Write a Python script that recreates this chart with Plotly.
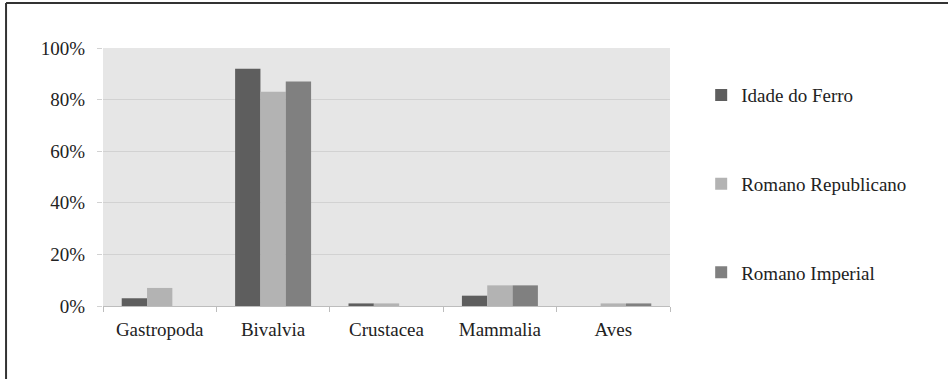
import plotly.graph_objects as go

categories = ["Gastropoda", "Bivalvia", "Crustacea", "Mammalia", "Aves"]
series_names = ["Idade do Ferro", "Romano Republicano", "Romano Imperial"]
idade_do_ferro = [0.03, 0.92, 0.01, 0.04, 0.0]
romano_republicano = [0.07, 0.83, 0.01, 0.08, 0.01]
romano_imperial = [0.0, 0.87, 0.0, 0.08, 0.01]
y_ticks = [0, 0.2, 0.4, 0.6, 0.8, 1.0]

colors = ["#5e5e5e", "#b3b3b3", "#808080"]
FONT = "Liberation Serif, Times New Roman, serif"

fig = go.Figure()
for i, (name, vals) in enumerate(zip(series_names, [idade_do_ferro, romano_republicano, romano_imperial])):
    fig.add_trace(go.Bar(
        x=categories, y=vals, name=name, legendgroup=name,
        marker=dict(color=colors[i], line=dict(width=0)),
    ))

fig.update_layout(
    width=948, height=379,
    margin=dict(l=103, r=278, t=48, b=73, autoexpand=False),
    paper_bgcolor="white",
    plot_bgcolor="#e6e6e6",
    barmode="group",
    bargap=0.33,
    bargroupgap=0,
    font=dict(family=FONT, size=19, color="#222222"),
    legend=dict(
        x=1.055, xref="paper", xanchor="left",
        y=0.891, yanchor="top",
        traceorder="grouped", tracegroupgap=61,
        itemwidth=30,
        font=dict(family=FONT, size=19, color="#222222"),
        bgcolor="rgba(0,0,0,0)",
    ),
    xaxis=dict(
        showgrid=False, showline=True, linecolor="#bdbdbd", linewidth=1,
        ticks="outside", tickson="boundaries", ticklen=5, tickcolor="#bdbdbd",
        ticklabelstandoff=6,
        tickfont=dict(family=FONT, size=19, color="#222222"),
    ),
    yaxis=dict(
        range=[0, 1], tickvals=y_ticks, tickformat=".0%",
        showgrid=True, gridcolor="#d2d2d2", gridwidth=1,
        ticks="outside", ticklen=5, tickcolor="#d2d2d2",
        ticklabelstandoff=8,
        zeroline=False, showline=False,
        tickfont=dict(family=FONT, size=19, color="#222222"),
    ),
    shapes=[
        dict(type="line", xref="paper", yref="paper", x0=-0.171, x1=1.6, y0=1.174, y1=1.174,
             line=dict(color="#333333", width=2)),
        dict(type="line", xref="paper", yref="paper", x0=-0.171, x1=-0.171, y0=-0.4, y1=1.174,
             line=dict(color="#333333", width=2)),
    ],
)

fig.write_html(
    "out.html",
    config={"displayModeBar": False},
    post_script="document.body.style.margin='0';document.body.style.padding='0';",
)
